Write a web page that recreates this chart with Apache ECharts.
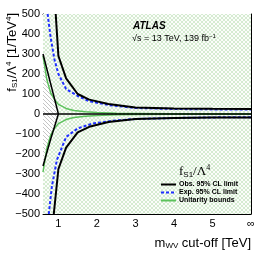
<!DOCTYPE html>
<html><head><meta charset="utf-8">
<script src="https://cdn.jsdelivr.net/npm/echarts@6/dist/echarts.min.js"></script>
<style>html,body{margin:0;padding:0;background:#fff}#c{width:266px;height:255px}</style>
</head><body><div id="c"></div>
<script>
// ---- data ----
const xRange = [0.6, 6];
const yRange = [-500, 500];
const xMajorTicks = [1, 2, 3, 4, 5, 6];
const xTickLabels = ['1', '2', '3', '4', '5', '∞'];

const obsUpX  = [0.93, 1.0, 1.2, 1.5, 1.8, 2.3, 3, 4, 5, 6];
const obsUpY  = [500, 290, 178, 100, 72, 50, 33, 28, 26, 25];
const obsLoX  = [0.88, 1.0, 1.2, 1.5, 1.8, 2.3, 3, 4, 5, 6];
const obsLoY  = [-500, -275, -168, -92, -64, -40, -25, -20, -18, -17];

const expUpX  = [0.72, 0.8, 0.9, 1.0, 1.2, 1.5, 1.8, 2.3, 3, 4, 5, 6];
const expUpY  = [500, 380, 270, 200, 125, 90, 64, 45, 30, 25, 23, 22];
const expLoX  = [0.75, 0.83, 0.96, 1.2, 1.5, 1.9, 2.5, 3, 4, 5, 6];
const expLoY  = [-500, -363, -230, -115, -72, -47, -32, -25, -20, -17, -16];

const unitX   = [0.6, 0.7, 0.8, 0.9, 1.0, 1.2, 1.4, 1.7, 2, 2.5, 3, 4, 5, 6];
const unitUpY = [290, 172, 105, 72, 48, 28, 18, 11, 7, 4, 3, 1.5, 1, 0.5];
const unitLoY = [-290, -172, -105, -72, -48, -28, -18, -11, -7, -4, -3, -1.5, -1, -0.5];

const vX      = [0.6, 0.8, 1.0];
const vUpY    = [300, 150, 0];
const vLoY    = [-260, -125, 0];

// ---- patterns ----
function hatch(size, bg, color, lw, both) {
  const c = document.createElement('canvas');
  c.width = c.height = size;
  const g = c.getContext('2d');
  g.fillStyle = bg; g.fillRect(0, 0, size, size);
  g.strokeStyle = color; g.lineWidth = lw;
  g.beginPath();
  for (let k = -1; k <= 1; k++) { g.moveTo(k * size, 0); g.lineTo(k * size + size, size); }
  if (both) {
    for (let k = -1; k <= 1; k++) { g.moveTo(k * size, size); g.lineTo(k * size + size, 0); }
  }
  g.stroke();
  return c;
}
const greenPat = hatch(4, '#fbfdfa', '#c4e3be', 0.7, true);
const grayPat = hatch(4, '#ffffff', '#aaaaaa', 0.7, false);

const zip = (xs, ys) => xs.map((x, i) => [x, ys[i]]);
const FONT = 'Liberation Sans';

const chart = echarts.init(document.getElementById('c'), null, {renderer: 'canvas'});
const black = '#000';

chart.setOption({
  animation: false,
  backgroundColor: '#fff',
  grid: {left: 43, right: 15, top: 14, bottom: 41, containLabel: false},
  xAxis: [
    {type: 'value', min: xRange[0], max: xRange[1], interval: 0.1, position: 'bottom',
     axisLine: {show: true, onZero: false, lineStyle: {color: black, width: 1}},
     axisTick: {show: true, inside: true, length: 3, lineStyle: {color: black}},
     axisLabel: {color: black, fontSize: 11, fontFamily: FONT, margin: 4,
       formatter: v => { const i = xMajorTicks.findIndex(t => Math.abs(t - v) < 1e-6); return i >= 0 ? xTickLabels[i] : ''; }},
     splitLine: {show: false}},
    {type: 'value', min: xRange[0], max: xRange[1], position: 'bottom',
     axisLine: {show: false},
     axisTick: {show: true, inside: true, length: 6, customValues: xMajorTicks, lineStyle: {color: black}},
     axisLabel: {show: false}, splitLine: {show: false}},
    {type: 'value', min: xRange[0], max: xRange[1], interval: 0.1, position: 'top',
     axisLine: {show: true, onZero: false, lineStyle: {color: black, width: 1}},
     axisTick: {show: true, inside: true, length: 3, lineStyle: {color: black}},
     axisLabel: {show: false}, splitLine: {show: false}},
    {type: 'value', min: xRange[0], max: xRange[1], position: 'top',
     axisLine: {show: false},
     axisTick: {show: true, inside: true, length: 6, customValues: xMajorTicks, lineStyle: {color: black}},
     axisLabel: {show: false}, splitLine: {show: false}}
  ],
  yAxis: [
    {type: 'value', min: yRange[0], max: yRange[1], interval: 100, position: 'left',
     axisLine: {show: true, onZero: false, lineStyle: {color: black, width: 1}},
     axisTick: {show: true, inside: true, length: 6, lineStyle: {color: black}},
     minorTick: {show: true, splitNumber: 5, length: 3, lineStyle: {color: black}},
     axisLabel: {color: black, fontSize: 11, fontFamily: FONT, margin: 3,
       formatter: v => v < 0 ? '\u2212' + Math.abs(v) : String(v)},
     splitLine: {show: false}},
    {type: 'value', min: yRange[0], max: yRange[1], interval: 100, position: 'right',
     axisLine: {show: true, onZero: false, lineStyle: {color: black, width: 1}},
     axisTick: {show: true, inside: true, length: 6, lineStyle: {color: black}},
     minorTick: {show: true, splitNumber: 5, length: 3, lineStyle: {color: black}},
     axisLabel: {show: false}, splitLine: {show: false}}
  ],
  legend: {
    orient: 'vertical', left: 160, top: 181, padding: 0,
    itemWidth: 15, itemHeight: 6, itemGap: 1,
    itemStyle: {opacity: 0},
    textStyle: {fontSize: 7, fontWeight: 'bold', fontFamily: FONT, color: black, lineHeight: 6, padding: [0, 0, 0, -2]},
    data: ['Obs. 95% CL limit', 'Exp. 95% CL limit', 'Unitarity bounds']
  },
  series: [
    {type: 'custom', z: 1, silent: true, data: [[xRange[0], yRange[0]]],
     renderItem: (params, api) => {
       const p0 = api.coord([xRange[0], yRange[1]]);
       const p1 = api.coord([xRange[1], yRange[0]]);
       return {type: 'rect', shape: {x: p0[0], y: p0[1], width: p1[0] - p0[0], height: p1[1] - p0[1]},
               style: {fill: {image: greenPat, repeat: 'repeat'}}};
     }},
    {type: 'custom', z: 2, silent: true, data: [[vX[0], 0]],
     renderItem: (params, api) => {
       const pts = vX.map((x, i) => api.coord([x, vUpY[i]]));
       for (let i = vX.length - 1; i >= 0; i--) pts.push(api.coord([vX[i], vLoY[i]]));
       return {type: 'polygon', shape: {points: pts}, style: {fill: {image: grayPat, repeat: 'repeat'}}};
     }},
    {name: 'Unitarity bounds', type: 'line', z: 3, data: zip(unitX, unitUpY), symbol: 'none', showSymbol: false,
     lineStyle: {color: '#5cc25c', width: 1.5}, itemStyle: {color: '#5cc25c'}},
    {name: 'Unitarity bounds', type: 'line', z: 3, data: zip(unitX, unitLoY), symbol: 'none', showSymbol: false,
     lineStyle: {color: '#5cc25c', width: 1.5}, itemStyle: {color: '#5cc25c'}},
    {name: 'Obs. 95% CL limit', type: 'line', z: 4, data: zip(vX, vUpY), symbol: 'none',
     lineStyle: {color: black, width: 1.5}, itemStyle: {color: black},
     markLine: {silent: true, symbol: 'none', label: {show: false}, lineStyle: {color: black, width: 1.5, type: 'solid'},
       data: [{yAxis: 0}]}},
    {name: 'Obs. 95% CL limit', type: 'line', z: 4, data: zip(vX, vLoY), symbol: 'none',
     lineStyle: {color: black, width: 1.5}, itemStyle: {color: black}},
    {name: 'Exp. 95% CL limit', type: 'line', z: 5, data: zip(expUpX, expUpY), symbol: 'none',
     lineStyle: {color: '#1f2fff', width: 2, type: [3, 2]}, itemStyle: {color: '#1f2fff'}},
    {name: 'Exp. 95% CL limit', type: 'line', z: 5, data: zip(expLoX, expLoY), symbol: 'none',
     lineStyle: {color: '#1f2fff', width: 2, type: [3, 2]}, itemStyle: {color: '#1f2fff'}},
    {name: 'Obs. 95% CL limit', type: 'line', z: 6, data: zip(obsUpX, obsUpY), symbol: 'none',
     lineStyle: {color: black, width: 2}, itemStyle: {color: black}},
    {name: 'Obs. 95% CL limit', type: 'line', z: 6, data: zip(obsLoX, obsLoY), symbol: 'none',
     lineStyle: {color: black, width: 2}, itemStyle: {color: black}}
  ],
  graphic: [
    {type: 'text', left: 133, top: 21, z: 10,
     style: {text: 'ATLAS', font: 'italic bold 10px "Liberation Sans"', fill: black}},
    {type: 'text', left: 132, top: 33, z: 10,
     style: {text: '{n|\u221As = 13 TeV, 139 fb}{s|\u22121}', fill: black,
       rich: {n: {fontSize: 9, fontFamily: FONT, fill: black}, s: {fontSize: 6, fontFamily: FONT, padding: [0, 0, 6, 0], fill: black}}}},
    {type: 'text', left: 179, top: 164, z: 10,
     style: {text: '{n|f}{s|S1}{n|/\u039B}{p|4}', fill: black,
       rich: {n: {fontSize: 13, fontFamily: 'Liberation Serif', fill: black},
              s: {fontSize: 8, fontFamily: 'Liberation Sans', padding: [6, 0, 0, 0], fill: black},
              p: {fontSize: 8, fontFamily: 'Liberation Serif', padding: [0, 0, 7, 0], fill: black}}}},
    {type: 'text', x: 251, y: 243, z: 10,
     style: {text: '{n|m}{s|WV}{n| cut-off [TeV]}', align: 'right', verticalAlign: 'middle', fill: black,
       rich: {n: {fontSize: 13, fontFamily: FONT, fill: black}, s: {fontSize: 8, fontFamily: FONT, padding: [6, 0, 0, 0], fill: black}}}},
    {type: 'text', x: 12, y: 13, rotation: Math.PI / 2, z: 10,
     style: {text: '{n|f}{s|S1}{n|/\u039B}{p|4}{n| [1/TeV}{p|4}{n|]}', align: 'right', verticalAlign: 'middle', fill: black,
       rich: {n: {fontSize: 13, fontFamily: FONT, fill: black}, s: {fontSize: 8, fontFamily: FONT, padding: [6, 0, 0, 0], fill: black},
              p: {fontSize: 8, fontFamily: FONT, padding: [0, 0, 7, 0], fill: black}}}}
  ]
});
</script></body></html>
